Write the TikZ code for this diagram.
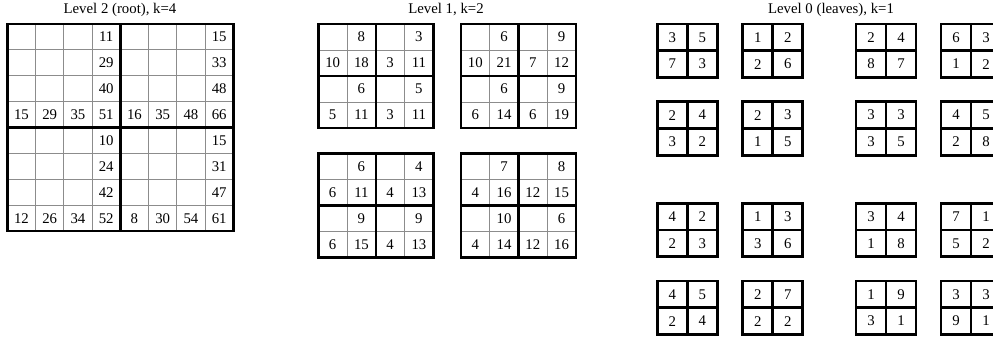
\documentclass[tikz,border=0pt]{standalone}
\usepackage{fontspec}
\setmainfont{Liberation Serif}
\begin{document}
\begin{tikzpicture}[x=1pt,y=-1pt,
num/.style={font=\fontsize{14.8}{17}\selectfont,inner sep=0pt},
ttl/.style={font=\fontsize{14.8}{17}\selectfont,inner sep=0pt,anchor=base},
thinrule/.style={draw=black!45,line width=0.9pt},
thickrule/.style={draw=black,line width=2.4pt},
leafrule/.style={draw=black,line width=2.8pt}
]
\clip (0,0) rectangle (993,338);
\node[ttl] (t2) at (120,13.5) {Level 2 (root), k=4};
\node[ttl] (t1) at (446,13.5) {Level 1, k=2};
\node[ttl] (t0) at (831,13.5) {Level 0 (leaves), k=1};
% level 2
\foreach \i in {1,2,3,5,6,7}{
  \draw[thinrule] (7.3+\i*28.25,24) -- ++(0,207);
  \draw[thinrule] (7.3,24+\i*25.9) -- ++(226,0);
}
\draw[thickrule] (7.3,24) rectangle ++(226,207)
  (120.3,24) -- ++(0,207) (7.3,127.6) -- ++(226,0);
\foreach \row [count=\r] in {{,,,11,,,,15},{,,,29,,,,33},{,,,40,,,,48},
  {15,29,35,51,16,35,48,66},{,,,10,,,,15},{,,,24,,,,31},{,,,42,,,,47},
  {12,26,34,52,8,30,54,61}}
  \foreach \v [count=\c] in \row
    \node[num] (r-\r-\c) at (7.3+\c*28.25-14.125,24+\r*25.9-12.95) {\v};
% level 1
\foreach \g/\gx/\gy/\rows in {
  a/318.3/24/{{,8,,3},{10,18,3,11},{,6,,5},{5,11,3,11}},
  b/461/24/{{,6,,9},{10,21,7,12},{,6,,9},{6,14,6,19}},
  c/318.3/153.3/{{,6,,4},{6,11,4,13},{,9,,9},{6,15,4,13}},
  d/461/153.3/{{,7,,8},{4,16,12,15},{,10,,6},{4,14,12,16}}}{
  \foreach \i in {1,3}{
    \draw[thinrule] (\gx+\i*28.75,\gy) -- ++(0,104);
    \draw[thinrule] (\gx,\gy+\i*26) -- ++(115,0);
  }
  \draw[thickrule] (\gx,\gy) rectangle ++(115,104)
    (\gx+57.5,\gy) -- ++(0,104) (\gx,\gy+52) -- ++(115,0);
  \foreach \row [count=\r] in \rows
    \foreach \v [count=\c] in \row
      \node[num] (\g-\r-\c) at (\gx+\c*28.75-14.375,\gy+\r*26-13) {\v};
}
% level 0
\foreach \lx/\ly/\pa/\pb/\pc/\pd [count=\n] in {
  657.3/24/3/5/7/3, 742.7/24/1/2/2/6, 856/24/2/4/8/7, 941/24/6/3/1/2,
  657.3/101.7/2/4/3/2, 742.7/101.7/2/3/1/5, 856/101.7/3/3/3/5, 941/101.7/4/5/2/8,
  657.3/203.3/4/2/2/3, 742.7/203.3/1/3/3/6, 856/203.3/3/4/1/8, 941/203.3/7/1/5/2,
  657.3/281/4/5/2/4, 742.7/281/2/7/2/2, 856/281/1/9/3/1, 941/281/3/3/9/1}{
  \draw[leafrule] (\lx,\ly) rectangle ++(60,53.5)
    (\lx+30,\ly) -- ++(0,53.5) (\lx,\ly+26.75) -- ++(60,0);
  \node[num] (l\n-1) at (\lx+15,\ly+13.4) {\pa};
  \node[num] (l\n-2) at (\lx+45,\ly+13.4) {\pb};
  \node[num] (l\n-3) at (\lx+15,\ly+40.1) {\pc};
  \node[num] (l\n-4) at (\lx+45,\ly+40.1) {\pd};
}
\end{tikzpicture}
\end{document}
